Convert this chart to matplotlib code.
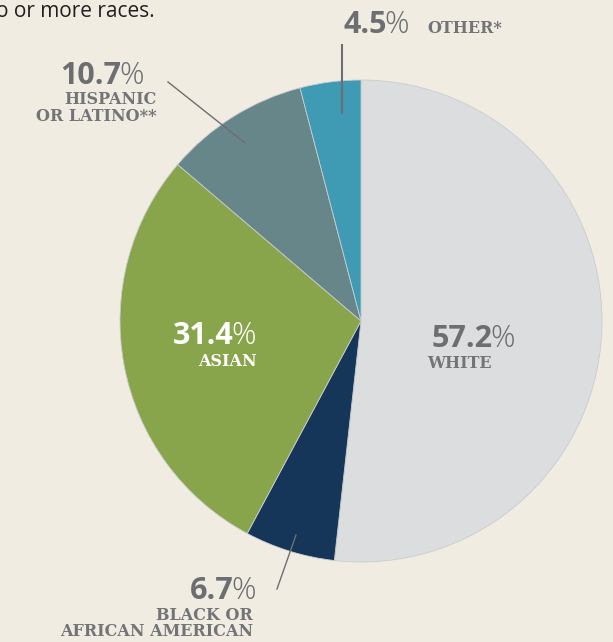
import matplotlib.pyplot as plt

# data (shares overlap, pie normalises them)
categories = ['WHITE', 'BLACK OR\nAFRICAN AMERICAN', 'ASIAN', 'HISPANIC\nOR LATINO**', 'OTHER*']
values = [57.2, 6.7, 31.4, 10.7, 4.5]
colors = ['#dcdddf', '#163659', '#89a54c', '#67868a', '#3f9ab3']

W, H = 613, 642
bg = '#f0ece1'
grey = '#6d6e71'

fig = plt.figure(figsize=(W / 100, H / 100), dpi=100, facecolor=bg)
ax = fig.add_axes([0, 0, 1, 1])
ax.set_facecolor(bg)

ax.pie(values, colors=colors, startangle=90, counterclock=False,
       center=(361, H - 321), radius=241,
       wedgeprops=dict(linewidth=0.6, edgecolor='#c9cdd0'))
ax.set_xlim(0, W)
ax.set_ylim(0, H)
ax.set_aspect('equal')
ax.axis('off')


def y(py):
    return H - py


num_font = dict(family='Open Sans', fontweight='bold', fontsize=22)
pct_font = dict(family='Open Sans', fontweight='light', fontsize=22)
lab_font = dict(family='DejaVu Serif', fontweight='bold', fontsize=11.5)


def pct(x_split, base, val, color=grey):
    ax.text(x_split + 1.5, y(base), f'{val}', ha='right', va='baseline', color=color, **num_font)
    ax.text(x_split - 1, y(base), '%', ha='left', va='baseline', color=color, **pct_font)


def lab(x, base, s, ha, color='#737477'):
    ax.text(x, y(base), s, ha=ha, va='baseline', color=color, **lab_font)


# top note, cut off at the left edge like the source
ax.text(-4, y(17), 'o or more races.', ha='left', va='baseline',
        family='Open Sans', fontsize=15, color='#231f20')

# white
pct(491, 347, values[0])
lab(427, 368, categories[0], 'left')

# black
pct(232.5, 599, values[1])
b1, b2 = categories[1].split('\n')
lab(253, 620, b1, 'right')
lab(253, 636, b2, 'right')
ax.plot([296, 277], [y(535), y(589)], color=grey, lw=1)

# asian
pct(232.5, 344, values[2], color='white')
lab(257, 366, categories[2], 'right', color='white')

# hispanic
pct(120, 84, values[3])
h1, h2 = categories[3].split('\n')
lab(157, 104, h1, 'right')
lab(157, 121, h2, 'right')
ax.plot([168, 245], [y(82), y(143)], color=grey, lw=1)

# other
pct(385, 33, values[4])
lab(427, 33, categories[4], 'left')
ax.plot([342, 342], [y(45), y(113)], color=grey, lw=1.5)

fig.savefig('out.png', dpi=100, facecolor=bg)
